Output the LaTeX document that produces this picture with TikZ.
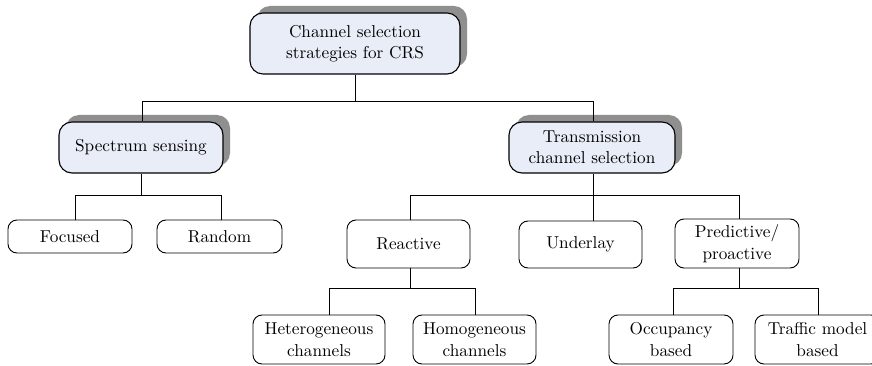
\documentclass[tikz,border=0pt]{standalone}
\usepackage{fontspec}
\setmainfont{lmroman10-regular.otf}
\usetikzlibrary{shadows}
\definecolor{headfill}{HTML}{E9EDF8}
\definecolor{shadowgray}{HTML}{8F8F8F}
\begin{document}
\begin{tikzpicture}[x=1pt,y=-1pt,
  every node/.style={font=\fontsize{17.2}{21.5}\selectfont, align=center, inner sep=0pt},
  leaf/.style={draw, line width=0.9pt, rounded corners=9pt, fill=white},
  head/.style={draw, line width=1.1pt, rounded corners=13pt, fill=headfill,
    general shadow={fill=shadowgray, shadow xshift=7pt, shadow yshift=7pt}},
  link/.style={line width=0.9pt}]
\fill[white] (0,0) rectangle (872,366);
\clip (0,0) rectangle (872,366);
\useasboundingbox (0,0) rectangle (872,366);

% upper levels
\node[head, minimum width=210pt, minimum height=61pt] (root) at (355,43.5)
  {Channel selection\\strategies for CRS};
\node[head, minimum width=164pt, minimum height=51pt] (spec) at (141,147.5)
  {Spectrum sensing};
\node[head, minimum width=166pt, minimum height=51pt] (trans) at (592,147.5)
  {Transmission\\channel selection};

% sensing branch
\node[leaf, minimum width=124pt, minimum height=33pt] (focused) at (70,236.5) {Focused};
\node[leaf, minimum width=125pt, minimum height=33pt] (random) at (219.5,236.5) {Random};

% transmission branch
\node[leaf, minimum width=123pt, minimum height=48pt] (reactive) at (408.5,244) {Reactive};
\node[leaf, minimum width=123pt, minimum height=47pt] (underlay) at (580.5,244.5) {Underlay};
\node[leaf, minimum width=124pt, minimum height=49pt] (predictive) at (737,243.5) {Predictive/\\proactive};

% bottom level
\node[leaf, minimum width=132pt, minimum height=49pt] (hetero) at (319,339.5) {Heterogeneous\\channels};
\node[leaf, minimum width=123pt, minimum height=49pt] (homo) at (474.5,339.5) {Homogeneous\\channels};
\node[leaf, minimum width=124pt, minimum height=49pt] (occ) at (671,339.5) {Occupancy\\based};
\node[leaf, minimum width=125pt, minimum height=49pt] (traffic) at (817.5,339.5) {Traffic model\\based};

% connectors
\draw[link] (root.south) -- ++(0,26.5) -| ([xshift=1pt]spec.north);
\draw[link] (root.south) ++(0,26.5) -| ([xshift=1pt]trans.north);

\draw[link] (spec.south) -- ++(0,22) -| ([xshift=5pt]focused.north);
\draw[link] (spec.south) ++(0,22) -| ([xshift=1.5pt]random.north);

\draw[link] ([xshift=1pt]trans.south) -- ([xshift=1pt]trans.south |- underlay.north);
\draw[link] ([xshift=1pt]trans.south) ++(0,22) -| ([xshift=1.5pt]reactive.north);
\draw[link] ([xshift=1pt]trans.south) ++(0,22) -| ([xshift=2pt]predictive.north);

\draw[link] ([xshift=1.5pt]reactive.south) -- ++(0,20) -| ([xshift=10pt]hetero.north);
\draw[link] ([xshift=1.5pt]reactive.south) ++(0,20) -| ([xshift=0.5pt]homo.north);

\draw[link] ([xshift=2pt]predictive.south) -- ++(0,20) -| ([xshift=2pt]occ.north);
\draw[link] ([xshift=2pt]predictive.south) ++(0,20) -| ([xshift=0.5pt]traffic.north);
\end{tikzpicture}
\end{document}
